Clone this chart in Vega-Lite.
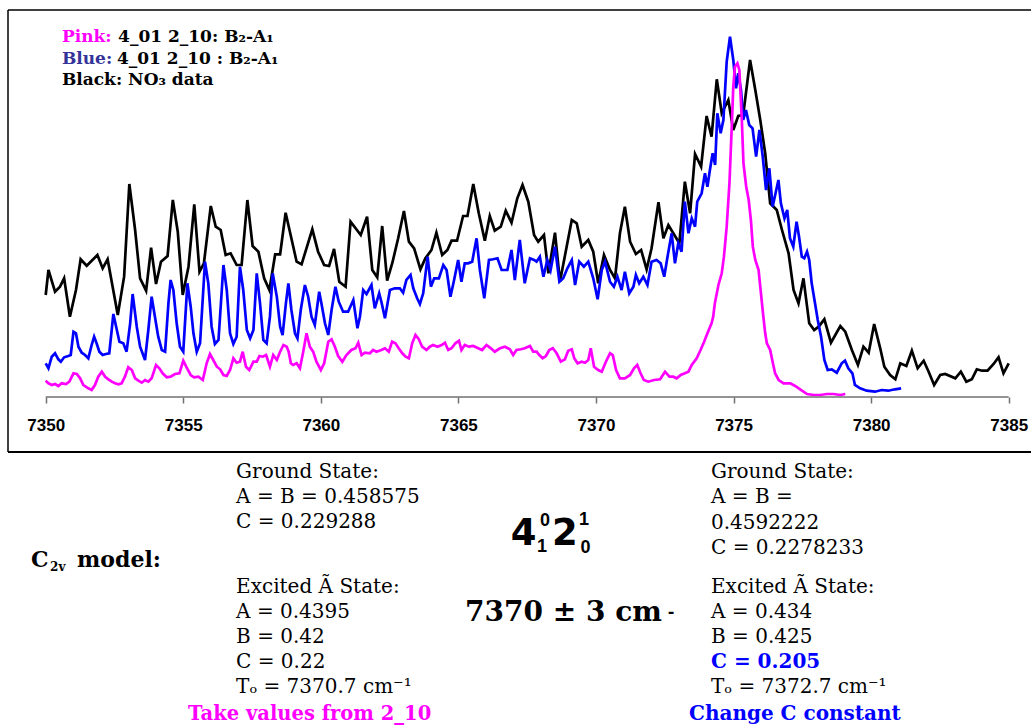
{
"$schema": "https://vega.github.io/schema/vega-lite/v6.json",
"width": 1023, "height": 442,
"autosize": {"type": "none"},
"padding": {"left": 8, "top": 10, "right": 0, "bottom": 273},
"background": "white",
"config": {"view": {"stroke": null}},
"resolve": {"axis": {"x": "independent", "y": "independent"}},
"datasets": {
"black": [
{"wn":7350.00,"i":102},{"wn":7350.10,"i":127},{"wn":7350.34,"i":105.3},{"wn":7350.52,"i":110.3},{"wn":7350.67,"i":118.7},{"wn":7350.88,"i":80.3},{"wn":7351.10,"i":107},{"wn":7351.27,"i":137.7},{"wn":7351.49,"i":131.3},{"wn":7351.88,"i":142},{"wn":7352.07,"i":128.7},{"wn":7352.25,"i":137.7},{"wn":7352.62,"i":82},{"wn":7352.85,"i":120.3},{"wn":7353.04,"i":213},{"wn":7353.25,"i":167},{"wn":7353.43,"i":118.7},{"wn":7353.65,"i":106.3},{"wn":7353.83,"i":149.3},{"wn":7354.01,"i":113},{"wn":7354.19,"i":135.3},{"wn":7354.43,"i":141},{"wn":7354.62,"i":197},{"wn":7354.80,"i":165.3},{"wn":7354.98,"i":102},{"wn":7355.19,"i":130.3},{"wn":7355.40,"i":192.7},{"wn":7355.59,"i":125.3},{"wn":7355.75,"i":133.7},{"wn":7356.00,"i":191},{"wn":7356.18,"i":170.3},{"wn":7356.36,"i":167},{"wn":7356.54,"i":142},{"wn":7356.72,"i":143.7},{"wn":7356.94,"i":132},{"wn":7357.12,"i":132},{"wn":7357.33,"i":197},{"wn":7357.52,"i":151},{"wn":7357.73,"i":145.3},{"wn":7357.94,"i":118.7},{"wn":7358.13,"i":107},{"wn":7358.34,"i":142.7},{"wn":7358.52,"i":142.7},{"wn":7358.72,"i":184.3},{"wn":7359.12,"i":135.3},{"wn":7359.30,"i":132.7},{"wn":7359.69,"i":167.7},{"wn":7359.90,"i":145.3},{"wn":7360.12,"i":132},{"wn":7360.30,"i":131},{"wn":7360.48,"i":148},{"wn":7360.67,"i":115.3},{"wn":7360.90,"i":110.3},{"wn":7361.08,"i":175.3},{"wn":7361.45,"i":162},{"wn":7361.68,"i":180.3},{"wn":7361.87,"i":127},{"wn":7362.05,"i":119.7},{"wn":7362.23,"i":171},{"wn":7362.41,"i":116.3},{"wn":7362.60,"i":134.3},{"wn":7362.81,"i":158.7},{"wn":7363.02,"i":186},{"wn":7363.20,"i":155.3},{"wn":7363.39,"i":148.7},{"wn":7363.62,"i":127.7},{"wn":7363.80,"i":138.7},{"wn":7364.02,"i":147},{"wn":7364.20,"i":164.3},{"wn":7364.41,"i":142},{"wn":7364.60,"i":147},{"wn":7364.75,"i":156.3},{"wn":7364.95,"i":156.3},{"wn":7365.17,"i":181},{"wn":7365.33,"i":181},{"wn":7365.54,"i":213},{"wn":7365.74,"i":183.7},{"wn":7365.96,"i":156.3},{"wn":7366.14,"i":181},{"wn":7366.32,"i":166.3},{"wn":7366.54,"i":170.3},{"wn":7366.72,"i":186.3},{"wn":7366.93,"i":174.3},{"wn":7367.14,"i":198.7},{"wn":7367.33,"i":212},{"wn":7367.54,"i":195.3},{"wn":7367.75,"i":162},{"wn":7367.90,"i":155.3},{"wn":7368.11,"i":162},{"wn":7368.27,"i":123.7},{"wn":7368.51,"i":164.3},{"wn":7368.69,"i":115.3},{"wn":7369.12,"i":177},{"wn":7369.30,"i":173.7},{"wn":7369.48,"i":150.3},{"wn":7369.72,"i":157},{"wn":7369.90,"i":145.3},{"wn":7370.08,"i":113.7},{"wn":7370.29,"i":142},{"wn":7370.51,"i":127},{"wn":7370.69,"i":118.7},{"wn":7370.87,"i":163.7},{"wn":7371.05,"i":190.3},{"wn":7371.24,"i":155.3},{"wn":7371.45,"i":143},{"wn":7371.64,"i":147},{"wn":7371.84,"i":127.7},{"wn":7372.02,"i":148.7},{"wn":7372.27,"i":194.7},{"wn":7372.45,"i":158.7},{"wn":7372.63,"i":172},{"wn":7372.81,"i":163.7},{"wn":7373.03,"i":153.7},{"wn":7373.23,"i":215.3},{"wn":7373.42,"i":183.7},{"wn":7373.60,"i":243},{"wn":7373.82,"i":230.3},{"wn":7374.02,"i":281},{"wn":7374.20,"i":260.3},{"wn":7374.39,"i":317.7},{"wn":7374.57,"i":283.7},{"wn":7374.81,"i":297},{"wn":7374.99,"i":267},{"wn":7375.17,"i":281},{"wn":7375.35,"i":282},{"wn":7375.60,"i":337},{"wn":7375.79,"i":307},{"wn":7375.97,"i":277},{"wn":7376.15,"i":243.7},{"wn":7376.33,"i":193.7},{"wn":7376.57,"i":187},{"wn":7376.76,"i":167},{"wn":7377.00,"i":143.7},{"wn":7377.18,"i":107},{"wn":7377.36,"i":93.7},{"wn":7377.54,"i":118.7},{"wn":7377.75,"i":73.7},{"wn":7377.93,"i":67},{"wn":7378.09,"i":70.3},{"wn":7378.30,"i":77.7},{"wn":7378.54,"i":54.3},{"wn":7378.88,"i":71},{"wn":7379.06,"i":65.3},{"wn":7379.30,"i":47},{"wn":7379.52,"i":32},{"wn":7379.72,"i":50.3},{"wn":7379.91,"i":44.3},{"wn":7380.11,"i":73},{"wn":7380.33,"i":48.7},{"wn":7380.48,"i":30.3},{"wn":7380.69,"i":22},{"wn":7380.88,"i":17.7},{"wn":7381.06,"i":33.7},{"wn":7381.28,"i":31},{"wn":7381.48,"i":46.3},{"wn":7381.69,"i":28.7},{"wn":7381.91,"i":36.3},{"wn":7382.09,"i":25.3},{"wn":7382.29,"i":12},{"wn":7382.51,"i":22},{"wn":7382.69,"i":23},{"wn":7383.06,"i":18.7},{"wn":7383.26,"i":25.3},{"wn":7383.46,"i":15.3},{"wn":7383.66,"i":17.7},{"wn":7383.84,"i":27.7},{"wn":7384.03,"i":26.3},{"wn":7384.23,"i":26.3},{"wn":7384.45,"i":33},{"wn":7384.63,"i":39.7},{"wn":7384.81,"i":23.7},{"wn":7385.00,"i":33.7}
],
"blue": [
{"wn":7350.00,"i":33.7},{"wn":7350.10,"i":28.7},{"wn":7350.22,"i":40.3},{"wn":7350.34,"i":43.7},{"wn":7350.46,"i":37.7},{"wn":7350.55,"i":35.3},{"wn":7350.67,"i":39.7},{"wn":7350.82,"i":41},{"wn":7350.91,"i":42},{"wn":7351.01,"i":65.3},{"wn":7351.10,"i":63.7},{"wn":7351.19,"i":50.3},{"wn":7351.31,"i":44.3},{"wn":7351.43,"i":42},{"wn":7351.55,"i":38.7},{"wn":7351.67,"i":52},{"wn":7351.76,"i":60.3},{"wn":7351.85,"i":53.7},{"wn":7351.95,"i":45.3},{"wn":7352.07,"i":42},{"wn":7352.19,"i":43},{"wn":7352.31,"i":43.7},{"wn":7352.46,"i":83},{"wn":7352.56,"i":70.3},{"wn":7352.68,"i":55.3},{"wn":7352.82,"i":53.7},{"wn":7352.94,"i":45.3},{"wn":7353.07,"i":73.7},{"wn":7353.16,"i":103},{"wn":7353.31,"i":70.3},{"wn":7353.43,"i":50.3},{"wn":7353.61,"i":37},{"wn":7353.73,"i":67},{"wn":7353.85,"i":100.3},{"wn":7353.97,"i":80.3},{"wn":7354.09,"i":60.3},{"wn":7354.22,"i":47},{"wn":7354.34,"i":45.3},{"wn":7354.46,"i":93.7},{"wn":7354.54,"i":117},{"wn":7354.64,"i":107},{"wn":7354.76,"i":73.7},{"wn":7354.88,"i":50.3},{"wn":7355.00,"i":45.3},{"wn":7355.15,"i":113.7},{"wn":7355.27,"i":90.3},{"wn":7355.37,"i":63.7},{"wn":7355.49,"i":45.3},{"wn":7355.61,"i":53.7},{"wn":7355.79,"i":135.3},{"wn":7355.91,"i":113.7},{"wn":7356.03,"i":70.3},{"wn":7356.15,"i":53},{"wn":7356.28,"i":57},{"wn":7356.46,"i":132},{"wn":7356.58,"i":107},{"wn":7356.70,"i":63.7},{"wn":7356.82,"i":53},{"wn":7356.94,"i":60.3},{"wn":7357.06,"i":130.3},{"wn":7357.18,"i":107},{"wn":7357.31,"i":67},{"wn":7357.43,"i":58.7},{"wn":7357.55,"i":67},{"wn":7357.67,"i":123.7},{"wn":7357.79,"i":93.7},{"wn":7357.91,"i":57},{"wn":7358.03,"i":53.7},{"wn":7358.15,"i":80.3},{"wn":7358.25,"i":123.7},{"wn":7358.40,"i":100.3},{"wn":7358.52,"i":70.3},{"wn":7358.61,"i":62},{"wn":7358.73,"i":93.7},{"wn":7358.82,"i":113.7},{"wn":7358.93,"i":87},{"wn":7359.06,"i":63.7},{"wn":7359.15,"i":58.7},{"wn":7359.27,"i":87},{"wn":7359.42,"i":112},{"wn":7359.54,"i":100.3},{"wn":7359.66,"i":80.3},{"wn":7359.78,"i":72},{"wn":7359.94,"i":105.3},{"wn":7360.02,"i":93.7},{"wn":7360.15,"i":73.7},{"wn":7360.27,"i":62},{"wn":7360.39,"i":87},{"wn":7360.53,"i":110.3},{"wn":7360.65,"i":95.3},{"wn":7360.81,"i":85.3},{"wn":7360.99,"i":85.3},{"wn":7361.18,"i":97},{"wn":7361.33,"i":68.7},{"wn":7361.42,"i":80.3},{"wn":7361.54,"i":107},{"wn":7361.66,"i":103},{"wn":7361.84,"i":112},{"wn":7361.96,"i":88.7},{"wn":7362.12,"i":103.7},{"wn":7362.20,"i":95.3},{"wn":7362.33,"i":78.7},{"wn":7362.51,"i":107},{"wn":7362.69,"i":108.7},{"wn":7362.87,"i":108.7},{"wn":7362.99,"i":104.3},{"wn":7363.11,"i":117},{"wn":7363.26,"i":122},{"wn":7363.36,"i":108.7},{"wn":7363.50,"i":98.7},{"wn":7363.60,"i":93},{"wn":7363.72,"i":103.7},{"wn":7363.88,"i":140.3},{"wn":7364.00,"i":110.3},{"wn":7364.12,"i":118.7},{"wn":7364.29,"i":118.7},{"wn":7364.45,"i":132},{"wn":7364.57,"i":127},{"wn":7364.71,"i":100.3},{"wn":7364.83,"i":115.3},{"wn":7364.99,"i":137},{"wn":7365.11,"i":115.3},{"wn":7365.23,"i":133.7},{"wn":7365.35,"i":133.7},{"wn":7365.50,"i":135.3},{"wn":7365.66,"i":158.7},{"wn":7365.78,"i":127},{"wn":7365.94,"i":98.7},{"wn":7366.11,"i":137},{"wn":7366.26,"i":137.7},{"wn":7366.42,"i":138.7},{"wn":7366.57,"i":127},{"wn":7366.78,"i":127},{"wn":7366.93,"i":147},{"wn":7367.05,"i":117},{"wn":7367.23,"i":157},{"wn":7367.41,"i":113.7},{"wn":7367.60,"i":138.7},{"wn":7367.75,"i":137},{"wn":7367.84,"i":135.3},{"wn":7367.96,"i":140.3},{"wn":7368.09,"i":120.3},{"wn":7368.23,"i":137},{"wn":7368.35,"i":127},{"wn":7368.51,"i":150.3},{"wn":7368.67,"i":115.3},{"wn":7368.81,"i":118.7},{"wn":7368.96,"i":128.7},{"wn":7369.12,"i":137},{"wn":7369.24,"i":112},{"wn":7369.39,"i":135.3},{"wn":7369.56,"i":130.3},{"wn":7369.72,"i":135.3},{"wn":7369.90,"i":118.7},{"wn":7370.06,"i":97.7},{"wn":7370.21,"i":127},{"wn":7370.33,"i":135.3},{"wn":7370.51,"i":115.3},{"wn":7370.65,"i":110.3},{"wn":7370.78,"i":120.3},{"wn":7370.93,"i":107},{"wn":7371.05,"i":125.3},{"wn":7371.21,"i":103.7},{"wn":7371.36,"i":110.3},{"wn":7371.45,"i":122},{"wn":7371.57,"i":113.7},{"wn":7371.72,"i":120.3},{"wn":7371.87,"i":112},{"wn":7372.02,"i":135.3},{"wn":7372.20,"i":137},{"wn":7372.35,"i":133.7},{"wn":7372.48,"i":120.3},{"wn":7372.60,"i":140.3},{"wn":7372.75,"i":163.7},{"wn":7372.87,"i":133.7},{"wn":7372.99,"i":153.7},{"wn":7373.11,"i":145.3},{"wn":7373.23,"i":195.3},{"wn":7373.36,"i":163.7},{"wn":7373.48,"i":178.7},{"wn":7373.60,"i":170.3},{"wn":7373.68,"i":195.3},{"wn":7373.84,"i":203.7},{"wn":7373.96,"i":223.7},{"wn":7374.05,"i":210.3},{"wn":7374.14,"i":227},{"wn":7374.24,"i":243.7},{"wn":7374.33,"i":232},{"wn":7374.41,"i":283.7},{"wn":7374.53,"i":263.7},{"wn":7374.63,"i":277},{"wn":7374.75,"i":335.3},{"wn":7374.87,"i":360.3},{"wn":7374.99,"i":337},{"wn":7375.09,"i":308.7},{"wn":7375.17,"i":323.7},{"wn":7375.27,"i":307},{"wn":7375.35,"i":277},{"wn":7375.45,"i":287},{"wn":7375.57,"i":272},{"wn":7375.69,"i":268.7},{"wn":7375.82,"i":240.3},{"wn":7375.94,"i":267},{"wn":7376.06,"i":240.3},{"wn":7376.18,"i":207},{"wn":7376.30,"i":228.7},{"wn":7376.42,"i":190.3},{"wn":7376.63,"i":217},{"wn":7376.72,"i":193.7},{"wn":7376.85,"i":178.7},{"wn":7376.95,"i":187},{"wn":7377.05,"i":158.7},{"wn":7377.17,"i":150.3},{"wn":7377.29,"i":175.3},{"wn":7377.38,"i":160.3},{"wn":7377.48,"i":140.3},{"wn":7377.57,"i":138.7},{"wn":7377.67,"i":145.3},{"wn":7377.75,"i":137},{"wn":7377.84,"i":113.7},{"wn":7377.96,"i":93.7},{"wn":7378.06,"i":77},{"wn":7378.18,"i":60.3},{"wn":7378.30,"i":37},{"wn":7378.42,"i":27},{"wn":7378.57,"i":27.7},{"wn":7378.75,"i":24.3},{"wn":7378.93,"i":33.7},{"wn":7379.05,"i":36.3},{"wn":7379.17,"i":28.7},{"wn":7379.32,"i":23.7},{"wn":7379.41,"i":12},{"wn":7379.60,"i":8.7},{"wn":7379.84,"i":6.3},{"wn":7380.14,"i":5.3},{"wn":7380.38,"i":7},{"wn":7380.62,"i":6.3},{"wn":7380.87,"i":7.7},{"wn":7381.09,"i":8.7}
],
"pink": [
{"wn":7350.00,"i":16.3},{"wn":7350.10,"i":13.7},{"wn":7350.22,"i":12},{"wn":7350.34,"i":13},{"wn":7350.46,"i":11},{"wn":7350.58,"i":13.7},{"wn":7350.74,"i":13},{"wn":7350.86,"i":15.3},{"wn":7351.01,"i":23.7},{"wn":7351.13,"i":23},{"wn":7351.25,"i":18.7},{"wn":7351.37,"i":12},{"wn":7351.55,"i":8.7},{"wn":7351.67,"i":7},{"wn":7351.79,"i":12},{"wn":7351.91,"i":20.3},{"wn":7352.04,"i":25.3},{"wn":7352.16,"i":20.3},{"wn":7352.28,"i":17.7},{"wn":7352.40,"i":15.3},{"wn":7352.52,"i":13.7},{"wn":7352.64,"i":12.7},{"wn":7352.76,"i":13.7},{"wn":7352.88,"i":20.3},{"wn":7353.00,"i":29.7},{"wn":7353.13,"i":27},{"wn":7353.25,"i":18.7},{"wn":7353.37,"i":16.3},{"wn":7353.49,"i":14.3},{"wn":7353.61,"i":17},{"wn":7353.73,"i":15.3},{"wn":7353.85,"i":18.7},{"wn":7354.01,"i":32},{"wn":7354.13,"i":28.7},{"wn":7354.25,"i":23.7},{"wn":7354.40,"i":19.7},{"wn":7354.54,"i":20.3},{"wn":7354.70,"i":23},{"wn":7354.86,"i":23.7},{"wn":7355.00,"i":36.3},{"wn":7355.12,"i":29.7},{"wn":7355.27,"i":22},{"wn":7355.39,"i":19.7},{"wn":7355.55,"i":20.3},{"wn":7355.71,"i":17},{"wn":7355.85,"i":33.7},{"wn":7355.97,"i":43},{"wn":7356.09,"i":37},{"wn":7356.22,"i":30.3},{"wn":7356.34,"i":27.7},{"wn":7356.46,"i":22},{"wn":7356.58,"i":21},{"wn":7356.70,"i":27},{"wn":7356.82,"i":38.7},{"wn":7356.94,"i":34.3},{"wn":7357.06,"i":35.3},{"wn":7357.16,"i":45.3},{"wn":7357.28,"i":30.3},{"wn":7357.40,"i":27},{"wn":7357.55,"i":35.3},{"wn":7357.67,"i":35.3},{"wn":7357.77,"i":41},{"wn":7357.89,"i":40.3},{"wn":7358.01,"i":42},{"wn":7358.15,"i":30.3},{"wn":7358.27,"i":42},{"wn":7358.40,"i":37},{"wn":7358.52,"i":45.3},{"wn":7358.64,"i":52},{"wn":7358.76,"i":50.3},{"wn":7358.83,"i":45.3},{"wn":7358.91,"i":33.7},{"wn":7358.99,"i":32},{"wn":7359.12,"i":33.7},{"wn":7359.24,"i":28.7},{"wn":7359.36,"i":45.3},{"wn":7359.48,"i":63.7},{"wn":7359.60,"i":50.3},{"wn":7359.72,"i":45.3},{"wn":7359.84,"i":35.3},{"wn":7360.00,"i":27},{"wn":7360.12,"i":33.7},{"wn":7360.27,"i":55.3},{"wn":7360.39,"i":57.7},{"wn":7360.51,"i":50.3},{"wn":7360.63,"i":41},{"wn":7360.78,"i":35.3},{"wn":7360.93,"i":42},{"wn":7361.11,"i":47},{"wn":7361.26,"i":48.7},{"wn":7361.36,"i":54.3},{"wn":7361.48,"i":42},{"wn":7361.60,"i":44.3},{"wn":7361.78,"i":43.7},{"wn":7361.90,"i":47},{"wn":7362.02,"i":45.3},{"wn":7362.20,"i":47},{"wn":7362.33,"i":48.7},{"wn":7362.47,"i":45.3},{"wn":7362.59,"i":55.3},{"wn":7362.71,"i":53.7},{"wn":7362.83,"i":48.7},{"wn":7362.96,"i":43.7},{"wn":7363.08,"i":40.3},{"wn":7363.20,"i":38.7},{"wn":7363.32,"i":53.7},{"wn":7363.44,"i":62},{"wn":7363.56,"i":57.7},{"wn":7363.68,"i":50.3},{"wn":7363.84,"i":47},{"wn":7363.96,"i":50.3},{"wn":7364.08,"i":52},{"wn":7364.24,"i":50.3},{"wn":7364.39,"i":52},{"wn":7364.51,"i":54.3},{"wn":7364.63,"i":47},{"wn":7364.75,"i":48.7},{"wn":7364.89,"i":53.7},{"wn":7365.02,"i":56.3},{"wn":7365.11,"i":47},{"wn":7365.23,"i":52},{"wn":7365.38,"i":50.3},{"wn":7365.54,"i":51},{"wn":7365.72,"i":48.7},{"wn":7365.86,"i":47},{"wn":7366.02,"i":52},{"wn":7366.18,"i":48.7},{"wn":7366.32,"i":45.3},{"wn":7366.51,"i":48.7},{"wn":7366.69,"i":50.3},{"wn":7366.87,"i":47.7},{"wn":7366.99,"i":42},{"wn":7367.11,"i":47},{"wn":7367.27,"i":47.7},{"wn":7367.41,"i":48.7},{"wn":7367.60,"i":51},{"wn":7367.72,"i":45.3},{"wn":7367.84,"i":45.3},{"wn":7367.94,"i":42},{"wn":7368.06,"i":38.7},{"wn":7368.18,"i":41},{"wn":7368.30,"i":47},{"wn":7368.43,"i":48.7},{"wn":7368.57,"i":43.7},{"wn":7368.72,"i":35.3},{"wn":7368.87,"i":37.7},{"wn":7368.99,"i":46.3},{"wn":7369.12,"i":47.7},{"wn":7369.21,"i":38.7},{"wn":7369.33,"i":33.7},{"wn":7369.48,"i":35.3},{"wn":7369.60,"i":34.3},{"wn":7369.72,"i":37},{"wn":7369.81,"i":48.7},{"wn":7369.93,"i":30.3},{"wn":7370.08,"i":27},{"wn":7370.21,"i":25.3},{"wn":7370.36,"i":35.3},{"wn":7370.51,"i":43.7},{"wn":7370.61,"i":42},{"wn":7370.73,"i":27},{"wn":7370.87,"i":18.7},{"wn":7371.05,"i":18.7},{"wn":7371.24,"i":22},{"wn":7371.38,"i":28.7},{"wn":7371.50,"i":32},{"wn":7371.62,"i":23.7},{"wn":7371.74,"i":17},{"wn":7371.90,"i":15.3},{"wn":7372.11,"i":17},{"wn":7372.33,"i":17.7},{"wn":7372.51,"i":25.3},{"wn":7372.67,"i":20.3},{"wn":7372.81,"i":20.3},{"wn":7372.93,"i":18.7},{"wn":7373.08,"i":22},{"wn":7373.23,"i":23.7},{"wn":7373.36,"i":25.3},{"wn":7373.48,"i":32},{"wn":7373.66,"i":38.7},{"wn":7373.80,"i":47},{"wn":7373.93,"i":55.3},{"wn":7374.05,"i":63.7},{"wn":7374.20,"i":73.7},{"wn":7374.26,"i":80.3},{"wn":7374.32,"i":93.7},{"wn":7374.45,"i":112},{"wn":7374.57,"i":123.7},{"wn":7374.65,"i":140.3},{"wn":7374.75,"i":170.3},{"wn":7374.85,"i":213.7},{"wn":7374.93,"i":267},{"wn":7374.99,"i":310.3},{"wn":7375.05,"i":330.3},{"wn":7375.14,"i":333.7},{"wn":7375.21,"i":327},{"wn":7375.30,"i":277},{"wn":7375.36,"i":233.7},{"wn":7375.46,"i":210.3},{"wn":7375.55,"i":197},{"wn":7375.63,"i":177},{"wn":7375.70,"i":150.3},{"wn":7375.79,"i":137},{"wn":7375.91,"i":127},{"wn":7375.97,"i":110.3},{"wn":7376.07,"i":83.7},{"wn":7376.15,"i":63.7},{"wn":7376.21,"i":53.7},{"wn":7376.33,"i":47},{"wn":7376.43,"i":33.7},{"wn":7376.51,"i":23.7},{"wn":7376.64,"i":17},{"wn":7376.82,"i":13.7},{"wn":7377.06,"i":13.7},{"wn":7377.24,"i":11},{"wn":7377.42,"i":7.7},{"wn":7377.67,"i":3},{"wn":7377.91,"i":2},{"wn":7378.15,"i":2},{"wn":7378.39,"i":3},{"wn":7378.63,"i":3},{"wn":7378.88,"i":2},{"wn":7379.06,"i":3}
]
},
"layer": [
{"data": {"name": "black"}, "mark": {"type": "line", "color": "#000000", "strokeWidth": 2.7},
 "encoding": {
  "x": {"field": "wn", "type": "quantitative", "scale": {"domain": [7348.63, 7385.81], "nice": false, "zero": false},
        "axis": {"values": [7350, 7355, 7360, 7365, 7370, 7375, 7380, 7385], "title": null, "offset": -55, "domain": false, "grid": false,
                 "ticks": true, "tickSize": 6, "tickColor": "#707070", "tickWidth": 1.5,
                 "labelFont": "Liberation Sans", "labelFontWeight": "bold", "labelFontSize": 17, "labelColor": "#000000",
                 "labelBaseline": "alphabetic", "labelPadding": 27, "labelFlush": false, "labelOverlap": false, "format": "d"}},
  "y": {"field": "i", "type": "quantitative", "scale": {"domain": [-55, 387], "nice": false, "zero": false}, "axis": null}}},
{"data": {"name": "blue"}, "mark": {"type": "line", "color": "#0000FF", "strokeWidth": 2.7},
 "encoding": {"x": {"field": "wn", "type": "quantitative", "axis": null}, "y": {"field": "i", "type": "quantitative", "axis": null}}},
{"data": {"name": "pink"}, "mark": {"type": "line", "color": "#FF00FF", "strokeWidth": 2.7},
 "encoding": {"x": {"field": "wn", "type": "quantitative", "axis": null}, "y": {"field": "i", "type": "quantitative", "axis": null}}},
{"data": {"values": [{}]}, "mark": {"type": "rule", "color": "#707070", "strokeWidth": 1.5},
 "encoding": {"x": {"datum": 7350, "axis": null}, "x2": {"datum": 7385}, "y": {"datum": 0, "axis": null}}},
{"data": {"values": [{}]}, "mark": {"type": "rule", "color": "#000000", "strokeWidth": 1.5},
 "encoding": {"x": {"datum": 7348.63, "axis": null}, "y": {"datum": -55, "axis": null}, "y2": {"datum": 387}}},
{"data": {"values": [{}]}, "mark": {"type": "rule", "color": "#000000", "strokeWidth": 1.5},
 "encoding": {"x": {"datum": 7348.63, "axis": null}, "x2": {"datum": 7385.81}, "y": {"datum": 387, "axis": null}}},
{"data": {"values": [{}]}, "mark": {"type": "rule", "color": "#000000", "strokeWidth": 2},
 "encoding": {"x": {"datum": 7348.63, "axis": null}, "x2": {"datum": 7385.81}, "y": {"datum": -55, "axis": null}}},

{"data": {"values": [{}]}, "mark": {"type": "text", "text": "Pink:", "font": "DejaVu Serif", "fontWeight": "bold", "fontSize": 17, "align": "left", "baseline": "alphabetic", "color": "#FF00FF"},
 "encoding": {"x": {"datum": 7350.59, "axis": null}, "y": {"datum": 355, "axis": null}}},
{"data": {"values": [{}]}, "mark": {"type": "text", "text": "4_01 2_10: B₂-A₁", "font": "DejaVu Serif", "fontWeight": "bold", "fontSize": 17, "align": "left", "baseline": "alphabetic", "color": "#000000"},
 "encoding": {"x": {"datum": 7352.63, "axis": null}, "y": {"datum": 355, "axis": null}}},
{"data": {"values": [{}]}, "mark": {"type": "text", "text": "Blue:", "font": "DejaVu Serif", "fontWeight": "bold", "fontSize": 17, "align": "left", "baseline": "alphabetic", "color": "#333399"},
 "encoding": {"x": {"datum": 7350.59, "axis": null}, "y": {"datum": 333.5, "axis": null}}},
{"data": {"values": [{}]}, "mark": {"type": "text", "text": "4_01 2_10 : B₂-A₁", "font": "DejaVu Serif", "fontWeight": "bold", "fontSize": 17, "align": "left", "baseline": "alphabetic", "color": "#000000"},
 "encoding": {"x": {"datum": 7352.59, "axis": null}, "y": {"datum": 333.5, "axis": null}}},
{"data": {"values": [{}]}, "mark": {"type": "text", "text": "Black: NO₃ data", "font": "DejaVu Serif", "fontWeight": "bold", "fontSize": 17, "align": "left", "baseline": "alphabetic", "color": "#000000"},
 "encoding": {"x": {"datum": 7350.59, "axis": null}, "y": {"datum": 312, "axis": null}}},

{"data": {"values": [{}]}, "mark": {"type": "text", "text": ["Ground State:", "A = B = 0.458575", "C = 0.229288"], "lineHeight": 25, "font": "DejaVu Serif", "fontSize": 20, "align": "left", "baseline": "alphabetic", "color": "#000000"},
 "encoding": {"x": {"datum": 7356.92, "axis": null}, "y": {"datum": -81, "axis": null}}},
{"data": {"values": [{}]}, "mark": {"type": "text", "text": ["Excited Ã State:", "A = 0.4395", "B = 0.42", "C = 0.22", "Tₒ = 7370.7 cm⁻¹"], "lineHeight": 25, "font": "DejaVu Serif", "fontSize": 20, "align": "left", "baseline": "alphabetic", "color": "#000000"},
 "encoding": {"x": {"datum": 7356.92, "axis": null}, "y": {"datum": -196, "axis": null}}},
{"data": {"values": [{}]}, "mark": {"type": "text", "text": "Take values from 2_10", "font": "DejaVu Serif", "fontWeight": "bold", "fontSize": 19.5, "align": "left", "baseline": "alphabetic", "color": "#FF00FF"},
 "encoding": {"x": {"datum": 7355.17, "axis": null}, "y": {"datum": -323, "axis": null}}},
{"data": {"values": [{}]}, "mark": {"type": "text", "text": "C", "font": "DejaVu Serif", "fontWeight": "bold", "fontSize": 22, "align": "left", "baseline": "alphabetic", "color": "#000000"},
 "encoding": {"x": {"datum": 7349.47, "axis": null}, "y": {"datum": -170, "axis": null}}},
{"data": {"values": [{}]}, "mark": {"type": "text", "text": "2v", "font": "DejaVu Serif", "fontWeight": "bold", "fontSize": 12, "align": "left", "baseline": "alphabetic", "color": "#000000"},
 "encoding": {"x": {"datum": 7350.16, "axis": null}, "y": {"datum": -174, "axis": null}}},
{"data": {"values": [{}]}, "mark": {"type": "text", "text": "model:", "font": "DejaVu Serif", "fontWeight": "bold", "fontSize": 22, "align": "left", "baseline": "alphabetic", "color": "#000000"},
 "encoding": {"x": {"datum": 7351.14, "axis": null}, "y": {"datum": -170, "axis": null}}},

{"data": {"values": [{}]}, "mark": {"type": "text", "text": "4", "font": "DejaVu Sans", "fontWeight": "bold", "fontSize": 37, "align": "center", "baseline": "alphabetic", "color": "#000000"},
 "encoding": {"x": {"datum": 7367.37, "axis": null}, "y": {"datum": -148, "axis": null}}},
{"data": {"values": [{}]}, "mark": {"type": "text", "text": "0", "font": "Liberation Sans", "fontWeight": "bold", "fontSize": 18, "align": "center", "baseline": "alphabetic", "color": "#000000"},
 "encoding": {"x": {"datum": 7368.15, "axis": null}, "y": {"datum": -129, "axis": null}}},
{"data": {"values": [{}]}, "mark": {"type": "text", "text": "1", "font": "Liberation Sans", "fontWeight": "bold", "fontSize": 18, "align": "center", "baseline": "alphabetic", "color": "#000000"},
 "encoding": {"x": {"datum": 7368.04, "axis": null}, "y": {"datum": -155, "axis": null}}},
{"data": {"values": [{}]}, "mark": {"type": "text", "text": "2", "font": "DejaVu Sans", "fontWeight": "bold", "fontSize": 37, "align": "center", "baseline": "alphabetic", "color": "#000000"},
 "encoding": {"x": {"datum": 7368.87, "axis": null}, "y": {"datum": -148, "axis": null}}},
{"data": {"values": [{}]}, "mark": {"type": "text", "text": "1", "font": "Liberation Sans", "fontWeight": "bold", "fontSize": 18, "align": "center", "baseline": "alphabetic", "color": "#000000"},
 "encoding": {"x": {"datum": 7369.56, "axis": null}, "y": {"datum": -128, "axis": null}}},
{"data": {"values": [{}]}, "mark": {"type": "text", "text": "0", "font": "Liberation Sans", "fontWeight": "bold", "fontSize": 18, "align": "center", "baseline": "alphabetic", "color": "#000000"},
 "encoding": {"x": {"datum": 7369.62, "axis": null}, "y": {"datum": -156, "axis": null}}},
{"data": {"values": [{}]}, "mark": {"type": "text", "text": "7370 ± 3 cm", "font": "DejaVu Serif", "fontWeight": "bold", "fontSize": 28, "align": "left", "baseline": "alphabetic", "color": "#000000"},
 "encoding": {"x": {"datum": 7365.24, "axis": null}, "y": {"datum": -224, "axis": null}}},
{"data": {"values": [{}]}, "mark": {"type": "text", "text": "-", "font": "DejaVu Serif", "fontWeight": "bold", "fontSize": 16, "align": "center", "baseline": "alphabetic", "color": "#000000"},
 "encoding": {"x": {"datum": 7372.73, "axis": null}, "y": {"datum": -220, "axis": null}}},

{"data": {"values": [{}]}, "mark": {"type": "text", "text": ["Ground State:", "A = B =", "0.4592222", "C = 0.2278233"], "lineHeight": 25.3, "font": "DejaVu Serif", "fontSize": 20, "align": "left", "baseline": "alphabetic", "color": "#000000"},
 "encoding": {"x": {"datum": 7374.18, "axis": null}, "y": {"datum": -81, "axis": null}}},
{"data": {"values": [{}]}, "mark": {"type": "text", "text": ["Excited Ã State:", "A = 0.434", "B = 0.425"], "lineHeight": 25, "font": "DejaVu Serif", "fontSize": 20, "align": "left", "baseline": "alphabetic", "color": "#000000"},
 "encoding": {"x": {"datum": 7374.18, "axis": null}, "y": {"datum": -196, "axis": null}}},
{"data": {"values": [{}]}, "mark": {"type": "text", "text": "C = 0.205", "font": "DejaVu Serif", "fontWeight": "bold", "fontSize": 20, "align": "left", "baseline": "alphabetic", "color": "#0000FF"},
 "encoding": {"x": {"datum": 7374.18, "axis": null}, "y": {"datum": -271, "axis": null}}},
{"data": {"values": [{}]}, "mark": {"type": "text", "text": "Tₒ = 7372.7 cm⁻¹", "font": "DejaVu Serif", "fontSize": 20, "align": "left", "baseline": "alphabetic", "color": "#000000"},
 "encoding": {"x": {"datum": 7374.18, "axis": null}, "y": {"datum": -296, "axis": null}}},
{"data": {"values": [{}]}, "mark": {"type": "text", "text": "Change C constant", "font": "DejaVu Serif", "fontWeight": "bold", "fontSize": 20, "align": "left", "baseline": "alphabetic", "color": "#0000FF"},
 "encoding": {"x": {"datum": 7373.38, "axis": null}, "y": {"datum": -323, "axis": null}}}
]
}
